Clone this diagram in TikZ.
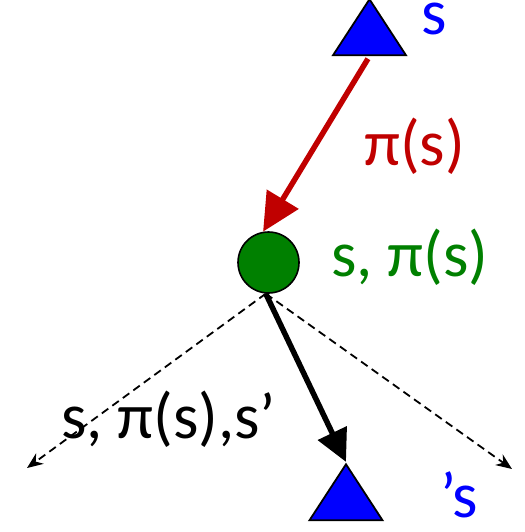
\documentclass[tikz,border=0pt]{standalone}
\usepackage{fontspec}
\setmainfont{Carlito}
\usepackage{xcolor}
\definecolor{bluestate}{RGB}{0,0,255}
\definecolor{greenqstate}{RGB}{0,128,0}
\definecolor{redpolicy}{RGB}{192,0,0}
\usepackage{tikz}
\usetikzlibrary{shapes.geometric,arrows.meta,positioning}

\begin{document}
\begin{tikzpicture}[
  x=1pt, y=-1pt,
  font=\fontsize{65}{67}\selectfont,
  state/.style={
    isosceles triangle, isosceles triangle stretches,
    shape border rotate=90, inner sep=0pt,
    minimum width=73pt, minimum height=56pt,
    draw=black, fill=bluestate, line width=1.8pt
  },
  qstate/.style={
    circle, inner sep=0pt, minimum size=61pt,
    draw=black, fill=greenqstate, line width=1.6pt
  },
  lbl/.style={anchor=base west, inner sep=0pt},
  policy/.style={-{Triangle[length=38pt,width=36pt]}, line width=5.5pt, color=redpolicy, shorten <=3pt},
  outcome/.style={-{Triangle[length=32pt,width=31pt]}, line width=5.5pt, color=black},
  branch/.style={-{Stealth[length=16pt,width=13pt]}, line width=1.8pt, dashed, dash pattern=on 8pt off 5pt}
]
\useasboundingbox (0,0) rectangle (524,532);

\node[state] (s) at (369.5,35.5) {};
\node[state] (sn) at (346,500.5) {};
\node[qstate] (q) at (268.5,262.5) {};

\coordinate (bl) at (27,468);
\coordinate (br) at (512,469);

\node[lbl, text=bluestate] (ls) at (421,35) {s};
\node[lbl, text=redpolicy] (lp) at (364,165) {π(s)};
\node[lbl, text=greenqstate] (lq) at (331,276) {s, π(s)};
\node[lbl] (lt) at (61,438) {s, π(s),s’};
\node[lbl, text=bluestate] (lsn) at (440,517) {’s};

\draw[policy] (s.lower side) -- (q.100);
\draw[branch] (q.265) -- (bl);
\draw[branch] (q.265) -- (br);
\draw[outcome] (q.265) -- (sn.apex);
\end{tikzpicture}
\end{document}
